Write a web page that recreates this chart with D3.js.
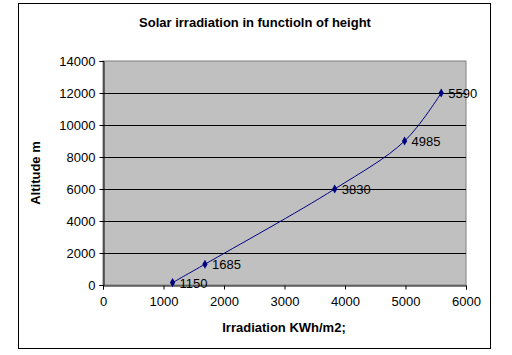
<!DOCTYPE html>
<html><head><meta charset="utf-8">
<script src="https://cdn.jsdelivr.net/npm/d3@7"></script>
<style>body{margin:0;background:#fff}svg{display:block;font-family:"Liberation Sans",Arial,sans-serif}</style>
</head><body><svg id="c" width="512" height="355"></svg>
<script>
const irradiation = [1150, 1685, 3830, 4985, 5590];
const altitude = [150, 1300, 6000, 9000, 12000];
const xTicks = [0, 1000, 2000, 3000, 4000, 5000, 6000];
const yTicks = [0, 2000, 4000, 6000, 8000, 10000, 12000, 14000];
const title = "Solar irradiation in functioln of height";
const xTitle = "Irradiation KWh/m2;";
const yTitle = "Altitude m";

const svg = d3.select("#c");
const L = 103, R = 466, T = 61, B = 285;
const x = d3.scaleLinear().domain([0, 6000]).range([L, R]);
const y = d3.scaleLinear().domain([0, 14000]).range([B, T]);

svg.append("rect").attr("x", 18.5).attr("y", 3.5).attr("width", 472).attr("height", 345)
  .attr("fill", "#fff").attr("stroke", "#000").attr("stroke-width", 1);
svg.append("rect").attr("x", L).attr("y", T).attr("width", R - L).attr("height", B - T)
  .attr("fill", "#c0c0c0").attr("stroke", "#808080");

svg.append("g").selectAll("line").data(yTicks.filter(d => d > 0 && d < 14000)).join("line")
  .attr("x1", L).attr("x2", R).attr("y1", d => y(d) + 0.5).attr("y2", d => y(d) + 0.5)
  .attr("stroke", "#000");

const xa = svg.append("g").attr("transform", `translate(0,${B + 0.5})`)
  .call(d3.axisBottom(x).tickValues(xTicks).tickSize(4).tickPadding(7).tickFormat(d3.format("d")));
const ya = svg.append("g").attr("transform", `translate(${L + 0.5},0)`)
  .call(d3.axisLeft(y).tickValues(yTicks).tickSize(4).tickPadding(4).tickFormat(d3.format("d")));
[xa, ya].forEach(a => {
  a.select(".domain").attr("stroke", "#000");
  a.selectAll(".tick line").attr("stroke", "#000");
  a.selectAll("text").attr("font-size", 13).attr("fill", "#000").attr("font-family", "Liberation Sans, Arial, sans-serif");
});

const pts = irradiation.map((v, i) => [v, altitude[i]]);
svg.append("path").datum(pts)
  .attr("d", d3.line().x(d => x(d[0])).y(d => y(d[1])).curve(d3.curveCatmullRom.alpha(0.5)))
  .attr("fill", "none").attr("stroke", "#000080").attr("stroke-width", 1);
svg.append("g").selectAll("path").data(pts).join("path")
  .attr("transform", d => `translate(${x(d[0])},${y(d[1])})`)
  .attr("d", d3.symbol().type(d3.symbolDiamond).size(24))
  .attr("fill", "#000080");
svg.append("g").selectAll("text").data(pts).join("text")
  .attr("x", d => x(d[0]) + 7).attr("y", d => y(d[1]) + 5)
  .attr("font-size", 13).attr("fill", "#000").text(d => d[0]);

svg.append("text").attr("x", 255).attr("y", 27).attr("text-anchor", "middle")
  .attr("font-size", 13).attr("font-weight", "bold").text(title);
svg.append("text").attr("x", 284).attr("y", 332).attr("text-anchor", "middle")
  .attr("font-size", 13).attr("font-weight", "bold").text(xTitle);
svg.append("text").attr("transform", `translate(40,${(T + B) / 2}) rotate(-90)`)
  .attr("text-anchor", "middle").attr("font-size", 13).attr("font-weight", "bold").text(yTitle);
</script></body></html>
